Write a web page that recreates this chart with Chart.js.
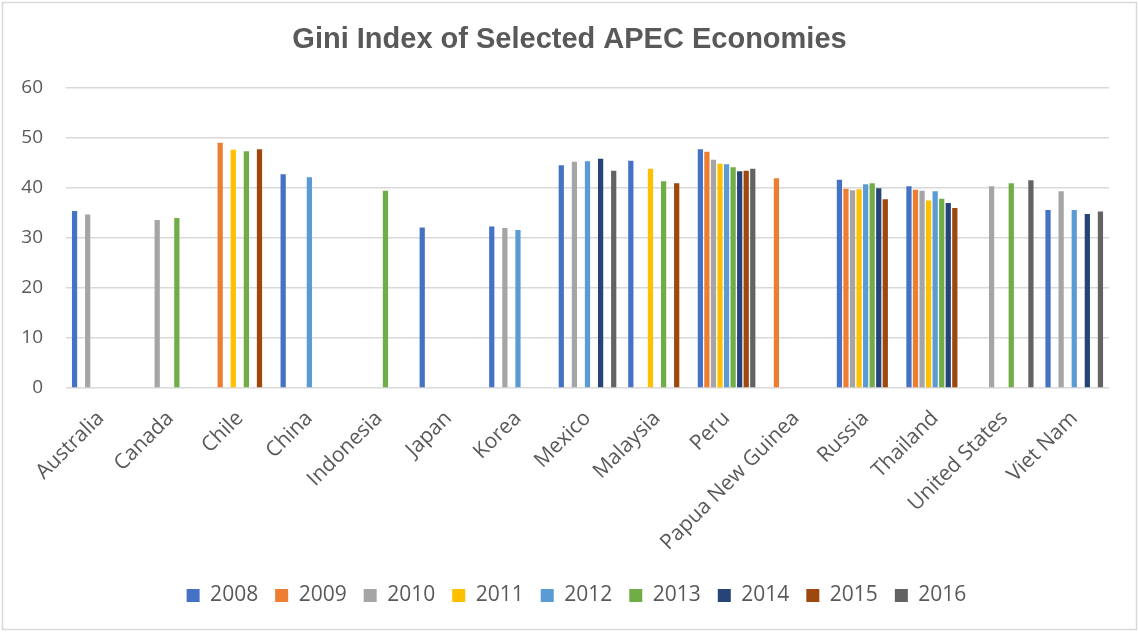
<!DOCTYPE html>
<html>
<head>
<meta charset="utf-8">
<script src="https://cdn.jsdelivr.net/npm/chart.js@4.4.0/dist/chart.umd.min.js"></script>
<style>
  html, body { margin: 0; padding: 0; background: #ffffff; }
  #wrap { position: relative; width: 1139px; height: 632px; }
  canvas { display: block; }
</style>
</head>
<body>
<div id="wrap"><canvas id="c" width="1139" height="632"></canvas></div>
<script>
const categories = ["Australia", "Canada", "Chile", "China", "Indonesia", "Japan", "Korea", "Mexico", "Malaysia", "Peru", "Papua New Guinea", "Russia", "Thailand", "United States", "Viet Nam"];
const years = ["2008", "2009", "2010", "2011", "2012", "2013", "2014", "2015", "2016"];
const yTicks = [0, 10, 20, 30, 40, 50, 60];

//                Aus   Can   Chi   Chn   Idn   Jpn   Kor   Mex   Mys   Per   PNG   Rus   Tha   USA   VNM
const v2008 = [35.4, null, null, 42.7, null, 32.1, 32.3, 44.5, 45.4, 47.7, null, 41.6, 40.3, null, 35.6];
const v2009 = [null, null, 49.0, null, null, null, null, null, null, 47.2, 41.9, 39.8, 39.6, null, null];
const v2010 = [34.7, 33.6, null, null, null, null, 32.0, 45.2, null, 45.6, null, 39.5, 39.4, 40.3, 39.3];
const v2011 = [null, null, 47.6, null, null, null, null, null, 43.8, 44.8, null, 39.7, 37.5, null, null];
const v2012 = [null, null, null, 42.1, null, null, 31.6, 45.3, null, 44.7, null, 40.7, 39.3, null, 35.6];
const v2013 = [null, 34.0, 47.3, null, 39.4, null, null, null, 41.3, 44.1, null, 40.9, 37.8, 40.9, null];
const v2014 = [null, null, null, null, null, null, null, 45.8, null, 43.3, null, 39.9, 37.0, null, 34.8];
const v2015 = [null, null, 47.7, null, null, null, null, null, 40.9, 43.4, null, 37.7, 36.0, null, null];
const v2016 = [null, null, null, null, null, null, null, 43.4, null, 43.8, null, null, null, 41.5, 35.3];

const seriesValues = [v2008, v2009, v2010, v2011, v2012, v2013, v2014, v2015, v2016];
const colors = ["#4472C4", "#ED7D31", "#A5A5A5", "#FFC000", "#5B9BD5", "#70AD47", "#264478", "#9E480E", "#636363"];

const textColor = "#595959";

const frame = {
  id: "frame",
  beforeDraw(chart) {
    const ctx = chart.ctx;
    ctx.save();
    ctx.fillStyle = "#ffffff";
    ctx.fillRect(0, 0, chart.width, chart.height);
    ctx.strokeStyle = "#d9d9d9";
    ctx.lineWidth = 1.5;
    ctx.strokeRect(2.5, 2.5, chart.width - 5, chart.height - 5);
    ctx.restore();
  },
  afterLayout(chart) {
    // nudge legend and title so they sit centred like the original
    if (chart.legend) {
      chart.legend.left += 15;
      chart.legend.right += 15;
      chart.legend.top += 2;
      chart.legend.bottom += 2;
    }
    if (chart.titleBlock) {
      chart.titleBlock.left += 8;
      chart.titleBlock.right += 8;
    }
  }
};

new Chart(document.getElementById("c"), {
  type: "bar",
  data: {
    labels: categories,
    datasets: years.map((y, i) => ({
      label: y,
      data: seriesValues[i],
      backgroundColor: colors[i],
      borderWidth: 0,
      categoryPercentage: 0.848,
      barPercentage: 0.8
    }))
  },
  options: {
    responsive: false,
    animation: false,
    devicePixelRatio: 1,
    layout: { padding: { left: 14, right: 30, top: 0, bottom: 18 } },
    plugins: {
      title: {
        display: true,
        text: "Gini Index of Selected APEC Economies",
        color: textColor,
        font: { family: "'Liberation Sans', Arial, sans-serif", size: 29, weight: "bold" },
        padding: { top: 23, bottom: 30 }
      },
      legend: {
        display: true,
        position: "bottom",
        labels: {
          color: textColor,
          font: { family: "'Open Sans', sans-serif", size: 21 },
          boxWidth: 13,
          boxHeight: 13,
          padding: 17
        }
      },
      tooltip: { enabled: false }
    },
    scales: {
      x: {
        grid: { display: false },
        border: { display: false },
        ticks: {
          color: textColor,
          font: { family: "'Open Sans', sans-serif", size: 21 },
          maxRotation: 45,
          minRotation: 45,
          autoSkip: false,
          padding: 10
        },
        afterFit(scale) { scale.height = 178; }
      },
      y: {
        min: 0,
        max: 60,
        afterBuildTicks(scale) { scale.ticks = yTicks.map(v => ({ value: v })); },
        grid: { color: "#d9d9d9", lineWidth: 1.5, drawTicks: false },
        border: { display: false },
        ticks: {
          color: textColor,
          font: { family: "'Open Sans', sans-serif", size: 19 },
          padding: 23
        },
        afterFit(scale) { scale.width = 52; }
      }
    }
  },
  plugins: [frame]
});
</script>
</body>
</html>
